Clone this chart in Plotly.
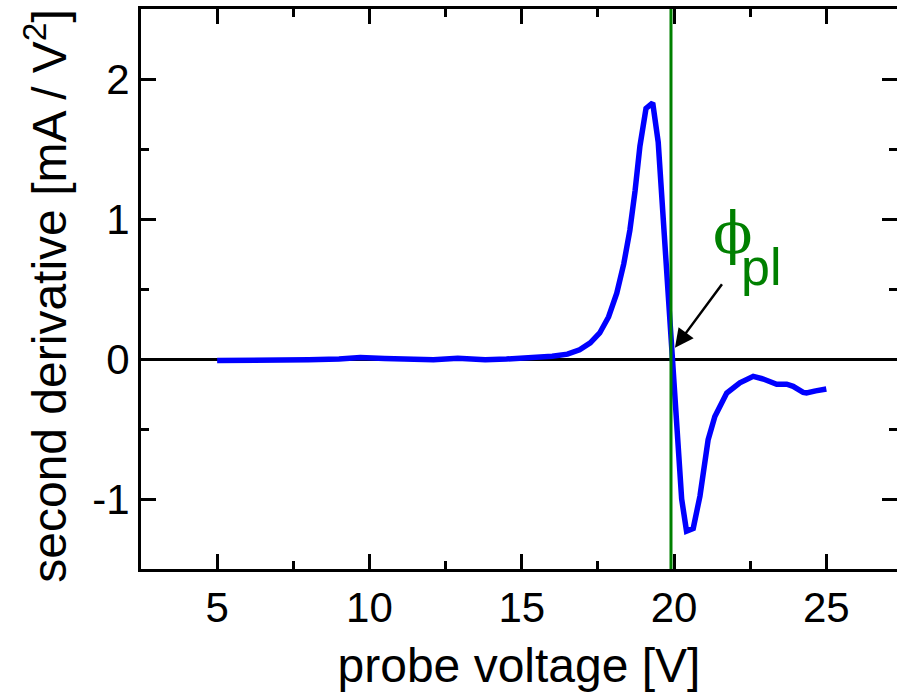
import plotly.graph_objects as go

# probe voltage [V]
voltage = [5.0, 6.0, 7.0, 8.0, 9.0, 9.7, 10.5, 11.0, 11.5, 12.1, 12.9, 13.8, 14.5,
           15.0, 15.5, 16.0, 16.5, 16.9, 17.25, 17.56, 17.85, 18.12, 18.35, 18.55,
           18.72, 18.88, 19.08, 19.30, 19.48, 20.25, 20.41, 20.63, 20.85, 21.12,
           21.34, 21.73, 22.16, 22.60, 22.93, 23.37, 23.70, 23.91, 24.24, 24.35,
           24.65, 25.0]
# second derivative [mA / V^2]
second_deriv = [-0.01, -0.01, -0.008, -0.006, 0.0, 0.01, 0.003, 0.0, -0.003, -0.006,
                0.005, -0.005, 0.0, 0.007, 0.01, 0.019, 0.035, 0.066, 0.115, 0.186,
                0.30, 0.47, 0.68, 0.92, 1.20, 1.52, 1.79, 1.83, 1.55, -1.0, -1.23,
                -1.21, -0.98, -0.576, -0.41, -0.243, -0.17, -0.124, -0.143, -0.18,
                -0.18, -0.195, -0.238, -0.243, -0.228, -0.214]

y_tickvals = [-1, 0, 1, 2]
y_ticktext = ["-1", "0", "1", "2"]

PHI_PL = 19.9
x_range = [2.5, 27.32]
y_range = [-1.5, 2.5]

FONT = "Liberation Sans, Arial, sans-serif"
GREEN = "#008000"

fig = go.Figure()
fig.add_trace(go.Scatter(x=voltage, y=second_deriv, mode="lines",
                         line=dict(color="#0000ff", width=5.5), showlegend=False))
# invisible trace to activate right axis
fig.add_trace(go.Scatter(x=[voltage[0]], y=[second_deriv[0]], yaxis="y2",
                         mode="markers", marker=dict(opacity=0), showlegend=False,
                         hoverinfo="skip"))

fig.add_shape(type="line", x0=PHI_PL, x1=PHI_PL, xref="x", yref="paper", y0=0, y1=1,
              line=dict(color=GREEN, width=3), layer="above")

fig.add_annotation(x=20.03, y=0.08, ax=21.61, ay=0.545, xref="x", yref="y",
                   axref="x", ayref="y", text="", showarrow=True, arrowhead=2,
                   arrowsize=1.5, arrowwidth=2.5, arrowcolor="black")
fig.add_annotation(x=21.93, y=0.90, xref="x", yref="y", text="ϕ", showarrow=False,
                   font=dict(family="DejaVu Serif, Liberation Serif, serif", size=58, color=GREEN))
fig.add_annotation(x=22.85, y=0.66, xref="x", yref="y", text="pl", showarrow=False,
                   font=dict(family=FONT, size=52, color=GREEN))

# y-axis title as rotated annotation
fig.add_annotation(x=-0.126, y=0.4875, xref="paper", yref="paper",
                   text="second derivative [mA / V<sup>2</sup>]", textangle=-90,
                   showarrow=False, xanchor="center", yanchor="middle",
                   font=dict(family=FONT, size=48, color="black"))

axis_common = dict(showgrid=False, linecolor="black", linewidth=3,
                   ticks="inside", tickcolor="black", tickwidth=3, ticklen=15,
                   tickfont=dict(family=FONT, size=42, color="black"))

fig.update_layout(
    width=897, height=697,
    margin=dict(l=141, r=0, t=9, b=128),
    paper_bgcolor="white", plot_bgcolor="white",
    xaxis=dict(range=x_range, showline=True, mirror="ticks", zeroline=False,
               tick0=0, dtick=5,
               minor=dict(ticks="inside", dtick=2.5, tick0=0, ticklen=8,
                          tickwidth=3, tickcolor="black"),
               title=dict(text="probe voltage [V]", standoff=18,
                          font=dict(family=FONT, size=48, color="black")),
               **axis_common),
    yaxis=dict(range=y_range, showline=True, mirror=False, zeroline=True,
               zerolinecolor="black", zerolinewidth=3,
               tickvals=y_tickvals, ticktext=y_ticktext,
               minor=dict(ticks="inside", dtick=0.5, tick0=0, ticklen=8,
                          tickwidth=3, tickcolor="black"),
               **axis_common),
    yaxis2=dict(range=y_range, overlaying="y", side="right", anchor="x",
                showline=False, zeroline=False, showgrid=False,
                showticklabels=False, ticks="inside", tickcolor="black",
                tickwidth=3, ticklen=15, tickvals=y_tickvals,
                minor=dict(ticks="inside", dtick=0.5, tick0=0, ticklen=8,
                           tickwidth=3, tickcolor="black")),
)

fig.write_html("out.html")
